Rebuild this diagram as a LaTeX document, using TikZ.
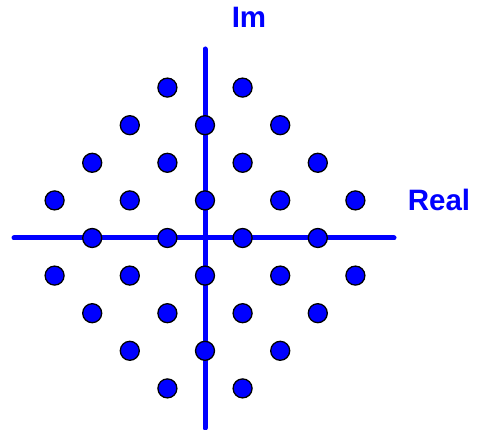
\documentclass[tikz,border=0pt]{standalone}
\usepackage{fontspec}
\setmainfont{Liberation Sans}
\definecolor{pblue}{RGB}{0,0,255}
\begin{document}
\begin{tikzpicture}[x=1pt,y=-1pt,
  axis/.style={draw=pblue,line width=5pt,line cap=round},
  dot/.style={circle,draw=black,line width=1.3pt,fill=pblue,minimum size=19pt,inner sep=0pt},
  lbl/.style={text=pblue,font=\bfseries\fontsize{29.5}{31}\selectfont,inner sep=0pt}]
\useasboundingbox (0,0) rectangle (488,430);
\coordinate (xl) at (14,238);
\coordinate (xr) at (394,238);
\coordinate (yt) at (205,49);
\coordinate (yb) at (205,428);
\draw[axis] (xl) -- (xr);
\draw[axis] (yt) -- (yb);
\node[lbl] (im) at (249,17) {Im};
\node[lbl] (re) at (439,200) {Real};
\foreach \i/\j in {-1/4,1/4,-2/3,0/3,2/3,-3/2,-1/2,1/2,3/2,-4/1,-2/1,0/1,2/1,4/1,-3/0,-1/0,1/0,3/0,-4/-1,-2/-1,0/-1,2/-1,4/-1,-3/-2,-1/-2,1/-2,3/-2,-2/-3,0/-3,2/-3,-1/-4,1/-4}
  \node[dot] (p\i\j) at ({205+37.6*\i},{238-37.6*\j}) {};
\end{tikzpicture}
\end{document}
